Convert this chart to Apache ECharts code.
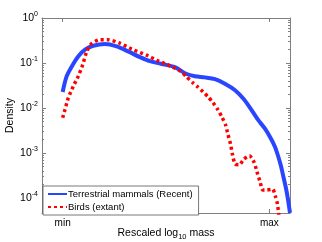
<!DOCTYPE html>
<html><head><meta charset="utf-8">
<script src="https://cdn.jsdelivr.net/npm/echarts@6/dist/echarts.min.js"></script>
<style>html,body{margin:0;padding:0;background:#fff}#c{width:322px;height:242px}</style>
</head><body><div id="c"></div>
<script>
// Terrestrial mammals (Recent)
const mammalX = [0.000,0.019,0.044,0.075,0.108,0.148,0.205,0.261,0.317,0.374,0.422,0.476,0.543,0.597,0.640,0.688,0.737,0.785,0.834,0.877,0.906,0.945,0.979,1.008,1.027,1.042,1.056,1.068,1.080,1.088,1.100];
const mammalDensity = [0.0227,0.0504,0.0839,0.140,0.198,0.242,0.264,0.234,0.181,0.135,0.110,0.0964,0.0807,0.0578,0.0509,0.0479,0.0437,0.0347,0.0249,0.0157,0.0102,0.0055,0.00347,0.00208,0.00138,0.00087,0.00052,0.000297,0.000169,0.000107,0.0000468];
// Birds (extant)
const birdX = [0.000,0.011,0.027,0.051,0.075,0.097,0.116,0.140,0.180,0.219,0.277,0.335,0.406,0.456,0.495,0.529,0.572,0.599,0.628,0.655,0.679,0.703,0.727,0.751,0.771,0.788,0.800,0.812,0.821,0.834,0.855,0.877,0.904,0.926,0.943,0.956,0.968,0.988,1.016,1.030,1.039,1.043,1.051];
const birdDensity = [0.00608,0.00916,0.0167,0.0302,0.0504,0.0917,0.178,0.269,0.330,0.330,0.275,0.203,0.149,0.115,0.0964,0.0827,0.0651,0.0497,0.0371,0.0290,0.0230,0.0178,0.0133,0.00916,0.00625,0.00426,0.00255,0.00160,0.000955,0.000570,0.000550,0.000736,0.000871,0.000625,0.000347,0.000222,0.000151,0.000151,0.000158,0.000107,0.0000746,0.0000541,0.0000251];
// Axis ticks
const xTickValues = [0, 1];
const xTickLabels = ['min', 'max'];
const yTickValues = [1e-4, 1e-3, 1e-2, 1e-1, 1];
const yMinorTicks = [];
for (let e = -5; e < 0; e++) for (let m = 2; m <= 9; m++) yMinorTicks.push(m * Math.pow(10, e));

const FONT = 'Liberation Sans';
const axisGray = '#7f7f7f';
const chart = echarts.init(document.getElementById('c'), null, {renderer: 'canvas'});
const xMin = -0.1, xMax = 1.1, yMin = 4.65e-5, yMax = 1;

function xAxisDef(pos, labels) {
  return {
    type: 'value', position: pos, min: xMin, max: xMax,
    axisLine: {show: true, onZero: false, lineStyle: {color: axisGray, width: 1}},
    axisTick: {show: true, inside: true, length: 4, customValues: xTickValues, lineStyle: {color: axisGray}},
    axisLabel: labels ? {show: true, customValues: xTickValues, fontFamily: FONT, fontSize: 10, color: '#000', margin: 5,
      formatter: v => xTickLabels[xTickValues.indexOf(v)]} : {show: false},
    splitLine: {show: false},
    name: labels ? '{a|Rescaled log}{s|10}{a| mass}' : '',
    nameLocation: 'middle', nameGap: 13, nameMoveOverlap: false,
    nameTextStyle: {fontFamily: FONT, color: '#000', verticalAlign: 'top', rich: {a: {fontFamily: FONT, fontSize: 10.5, color: '#000'}, s: {fontFamily: FONT, fontSize: 7.5, color: '#000', padding: [7, 0, 0, 0]}}}
  };
}
function yAxisDef(pos, labels, minor) {
  return {
    type: 'log', logBase: 10, position: pos, min: yMin, max: yMax,
    axisLine: {show: !minor, onZero: false, lineStyle: {color: axisGray, width: 1}},
    axisTick: {show: true, inside: true, length: minor ? 2 : 4, customValues: minor ? yMinorTicks : yTickValues, lineStyle: {color: axisGray}},
    axisLabel: labels ? {show: true, customValues: yTickValues, fontFamily: FONT, fontSize: 10, color: '#000', margin: 4,
      formatter: v => '{b|10}{s|' + Math.round(Math.log10(v)) + '}',
      rich: {b: {fontFamily: FONT, fontSize: 10.5, color: '#000'}, s: {fontFamily: FONT, fontSize: 7, color: '#000', padding: [0, 0, 7, 0]}}} : {show: false},
    splitLine: {show: false},
    name: labels ? 'Density' : '',
    nameLocation: 'middle', nameGap: 26, nameMoveOverlap: false,
    nameTextStyle: {fontFamily: FONT, fontSize: 10.5, color: '#000'}
  };
}

chart.setOption({
  animation: false,
  backgroundColor: '#fff',
  grid: {left: 42, right: 32, top: 18, bottom: 29, containLabel: false, outerBoundsMode: 'none'},
  xAxis: [xAxisDef('bottom', true), xAxisDef('top', false)],
  yAxis: [yAxisDef('left', true, false), yAxisDef('right', false, false), yAxisDef('left', false, true), yAxisDef('right', false, true)],
  legend: {
    orient: 'vertical', left: 43, top: 186, padding: [3, 6, 3, 4], itemGap: 3,
    itemWidth: 19, itemHeight: 8, backgroundColor: '#fff',
    borderColor: '#555', borderWidth: 0.8, borderRadius: 0,
    itemStyle: {opacity: 0},
    textStyle: {fontFamily: FONT, fontSize: 9.5, color: '#000', padding: [0, 0, 0, -4]},
    data: ['Terrestrial mammals (Recent)', 'Birds (extant)']
  },
  series: [
    {name: 'Terrestrial mammals (Recent)', type: 'line', xAxisIndex: 0, yAxisIndex: 0, showSymbol: false, symbol: 'none', smooth: 0.3,
      data: mammalX.map((x, i) => [x, mammalDensity[i]]), lineStyle: {color: '#2a45ff', width: 4}, itemStyle: {color: '#2a45ff'}, z: 2},
    {name: 'Birds (extant)', type: 'line', xAxisIndex: 0, yAxisIndex: 0, showSymbol: false, symbol: 'none', smooth: 0.2,
      data: birdX.map((x, i) => [x, birdDensity[i]]), lineStyle: {color: '#ff0000', width: 3.5, type: [3, 3]}, itemStyle: {color: '#ff0000'}, z: 3}
  ]
});
</script></body></html>
